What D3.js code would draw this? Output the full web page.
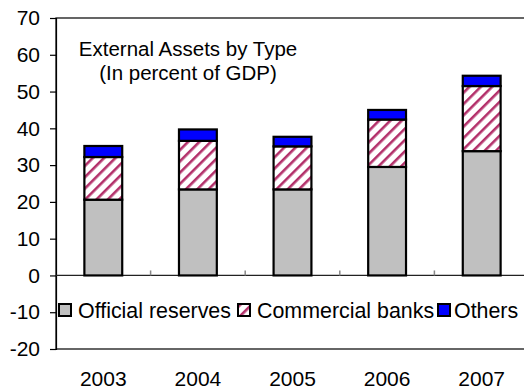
<!DOCTYPE html>
<html>
<head>
<meta charset="utf-8">
<script src="https://cdn.jsdelivr.net/npm/d3@7/dist/d3.min.js"></script>
<style>
  html, body { margin: 0; padding: 0; background: #fff; }
  svg { display: block; font-family: "Liberation Sans", Arial, sans-serif; }
</style>
</head>
<body>
<svg id="chart" width="524" height="392"></svg>
<script>
// External assets by type, percent of GDP
const years = ["2003", "2004", "2005", "2006", "2007"];
const officialReserves = [20.6, 23.4, 23.4, 29.5, 33.8];
const commercialBanks = [11.6, 13.2, 11.7, 12.9, 17.7];
const others = [3.0, 3.1, 2.6, 2.6, 2.8];
const seriesNames = ["Official reserves", "Commercial banks", "Others"];
const yTicks = [-20, -10, 0, 10, 20, 30, 40, 50, 60, 70];

const svg = d3.select("#chart");
const plotLeft = 56, plotRight = 529, plotTop = 18, plotBottom = 349;

const x = d3.scaleBand().domain(years).range([plotLeft, plotRight])
  .paddingInner(0.6).paddingOuter(0.3);
const y = d3.scaleLinear().domain([-20, 70]).range([plotBottom, plotTop]);

// diagonal hatch for commercial banks
const defs = svg.append("defs");
const pat = defs.append("pattern")
  .attr("id", "hatch").attr("patternUnits", "userSpaceOnUse")
  .attr("width", 8).attr("height", 8)
  .attr("patternTransform", "rotate(45)");
pat.append("rect").attr("width", 8).attr("height", 8).attr("fill", "#fff");
pat.append("rect").attr("x", 0).attr("y", 0).attr("width", 2.6).attr("height", 8)
  .attr("fill", "#b3306a");

const fills = ["#c0c0c0", "url(#hatch)", "#0000ff"];

// frame
svg.append("rect").attr("x", plotLeft).attr("y", plotTop)
  .attr("width", plotRight - plotLeft).attr("height", plotBottom - plotTop)
  .attr("fill", "none").attr("stroke", "#000").attr("stroke-width", 1.2);

// y axis
const yAxis = d3.axisLeft(y).tickValues(yTicks).tickSize(6).tickPadding(10)
  .tickFormat(d => String(d));
const gy = svg.append("g").attr("transform", `translate(${plotLeft},0)`).call(yAxis);
gy.select(".domain").attr("stroke", "#000").attr("stroke-width", 1.2);
gy.selectAll(".tick line").attr("stroke", "#000").attr("stroke-width", 1.2);
gy.selectAll(".tick text").attr("font-size", 21).attr("fill", "#000")
  .attr("font-family", "Liberation Sans, Arial, sans-serif");

// zero line with category separators
svg.append("line").attr("x1", plotLeft).attr("x2", plotRight)
  .attr("y1", y(0)).attr("y2", y(0)).attr("stroke", "#222").attr("stroke-width", 1.2);
const step = x.step();
const seps = d3.range(1, years.length).map(i => plotLeft + step * i);
svg.selectAll(".sep").data(seps).join("line")
  .attr("x1", d => d).attr("x2", d => d)
  .attr("y1", y(0) - 5).attr("y2", y(0))
  .attr("stroke", "#888").attr("stroke-width", 1.5);

// stacked bars
const stackData = years.map((yr, i) => ({
  year: yr, s0: officialReserves[i], s1: commercialBanks[i], s2: others[i]
}));
const stack = d3.stack().keys(["s0", "s1", "s2"])(stackData);
stack.forEach((layer, k) => {
  svg.append("g").selectAll("rect").data(layer).join("rect")
    .attr("x", d => x(d.data.year))
    .attr("width", x.bandwidth())
    .attr("y", d => y(d[1]))
    .attr("height", d => y(d[0]) - y(d[1]))
    .attr("fill", fills[k])
    .attr("stroke", "#000").attr("stroke-width", 2.2);
});

// category labels
svg.append("g").selectAll("text").data(years).join("text")
  .attr("x", d => x(d) + x.bandwidth() / 2)
  .attr("y", 386)
  .attr("text-anchor", "middle").attr("font-size", 21).attr("fill", "#000")
  .text(d => d);

// title
const title = svg.append("text").attr("text-anchor", "middle")
  .attr("font-size", 20.5).attr("fill", "#000");
title.append("tspan").attr("x", 188).attr("y", 56).text("External Assets by Type");
title.append("tspan").attr("x", 188).attr("y", 80).text("(In percent of GDP)");

// legend
const legendX = [59, 238, 438];
const legendTextX = [78, 257, 454];
const lg = svg.append("g");
seriesNames.forEach((name, k) => {
  lg.append("rect").attr("x", legendX[k]).attr("y", 304)
    .attr("width", 12).attr("height", 12)
    .attr("fill", fills[k]).attr("stroke", "#000").attr("stroke-width", 2);
  lg.append("text").attr("x", legendTextX[k]).attr("y", 318)
    .attr("font-size", 21.4).attr("fill", "#000").text(name);
});
</script>
</body>
</html>
